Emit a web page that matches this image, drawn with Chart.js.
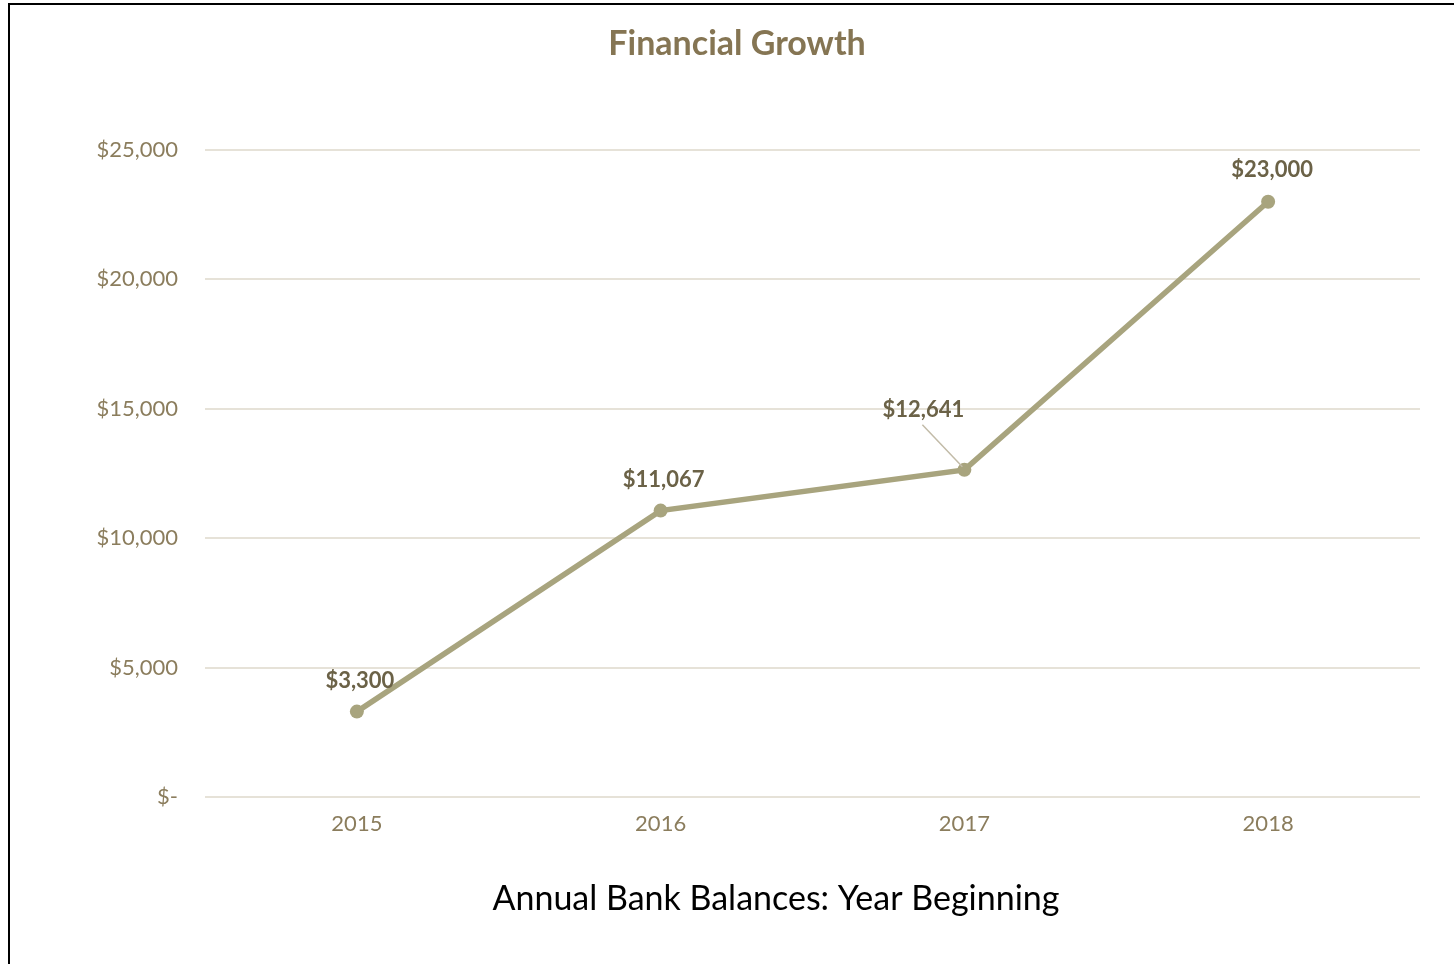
<!DOCTYPE html>
<html>
<head>
<meta charset="utf-8">
<script src="https://cdn.jsdelivr.net/npm/chart.js@4/dist/chart.umd.min.js"></script>
<style>
  html, body { margin: 0; padding: 0; background: #ffffff; width: 1454px; height: 964px; overflow: hidden; }
  #frame { position: absolute; left: 8px; top: 3px; width: 1460px; height: 980px; border-top: 2px solid #000; border-left: 2px solid #000; box-sizing: border-box; }
  #c { position: absolute; left: 0; top: 0; }
</style>
</head>
<body>
<div id="frame"></div>
<canvas id="c" width="1454" height="964"></canvas>
<script>
const years = ['2015', '2016', '2017', '2018'];
const balances = [3300, 11067, 12641, 23000];
const dataLabels = ['$3,300', '$11,067', '$12,641', '$23,000'];
const yTicks = [0, 5000, 10000, 15000, 20000, 25000];
const chartTitle = 'Financial Growth';
const xAxisTitle = 'Annual Bank Balances: Year Beginning';

const FONT = 'Lato, "Open Sans", sans-serif';

function fmtMoney(v) {
  if (v === 0) return '$-';
  return '$' + v.toLocaleString('en-US');
}

// label offsets relative to the point (style, not data)
const labelOffsets = [[3, -31], [3, -31], [-41, -60], [4, -32]];

const dataLabelPlugin = {
  id: 'dataLabelPlugin',
  afterDatasetsDraw(chart) {
    const ctx = chart.ctx;
    const meta = chart.getDatasetMeta(0);
    ctx.save();
    meta.data.forEach((pt, i) => {
      const [dx, dy] = labelOffsets[i];
      const lx = pt.x + dx, ly = pt.y + dy;
      if (i === 2) {
        ctx.strokeStyle = '#c2bba8';
        ctx.lineWidth = 1.5;
        ctx.beginPath();
        ctx.moveTo(lx - 1, ly + 15);
        ctx.lineTo(pt.x - 2, pt.y - 3);
        ctx.stroke();
      }
      ctx.font = 'bold 22px ' + FONT;
      ctx.fillStyle = '#6b6247';
      ctx.textAlign = 'center';
      ctx.textBaseline = 'middle';
      ctx.fillText(dataLabels[i], lx, ly);
    });
    ctx.restore();
  }
};

const axisTitlePlugin = {
  id: 'axisTitlePlugin',
  afterDraw(chart) {
    const ctx = chart.ctx;
    ctx.save();
    ctx.font = '34px ' + FONT;
    ctx.fillStyle = '#000000';
    ctx.textAlign = 'center';
    ctx.textBaseline = 'middle';
    const a = chart.chartArea;
    ctx.fillText(xAxisTitle, (chart.width + 98) / 2, a.bottom + 102);
    ctx.restore();
  }
};

new Chart(document.getElementById('c'), {
  type: 'line',
  data: {
    labels: years,
    datasets: [{
      data: balances,
      borderColor: '#a8a47e',
      backgroundColor: '#a8a47e',
      borderWidth: 5.5,
      tension: 0,
      pointRadius: 7,
      pointBorderWidth: 0,
      pointBackgroundColor: '#a8a47e',
      pointHoverRadius: 7
    }]
  },
  options: {
    responsive: false,
    animation: false,
    events: [],
    layout: { padding: { left: 54, right: 34, top: 0, bottom: 0 } },
    plugins: {
      legend: { display: false },
      tooltip: { enabled: false },
      title: {
        display: true,
        text: chartTitle,
        color: '#857553',
        font: { family: FONT, size: 34, weight: 'bold', lineHeight: 1.2 },
        padding: { top: 24, bottom: 85.2 }
      }
    },
    scales: {
      x: {
        offset: true,
        grid: { display: false, drawTicks: false },
        border: { display: false },
        ticks: {
          color: '#8b7d5d',
          font: { family: FONT, size: 22 },
          padding: 14
        },
        afterFit(scale) { scale.height = 167; }
      },
      y: {
        min: 0,
        max: 25000,
        afterBuildTicks(scale) { scale.ticks = yTicks.map(v => ({ value: v })); },
        grid: { color: '#e6e2d8', lineWidth: 2, drawTicks: false },
        border: { display: false },
        ticks: {
          color: '#8b7d5d',
          font: { family: FONT, size: 22 },
          padding: 27,
          callback: (v) => fmtMoney(v)
        },
        afterFit(scale) { scale.width = 151; }
      }
    }
  },
  plugins: [dataLabelPlugin, axisTitlePlugin]
});
</script>
</body>
</html>
